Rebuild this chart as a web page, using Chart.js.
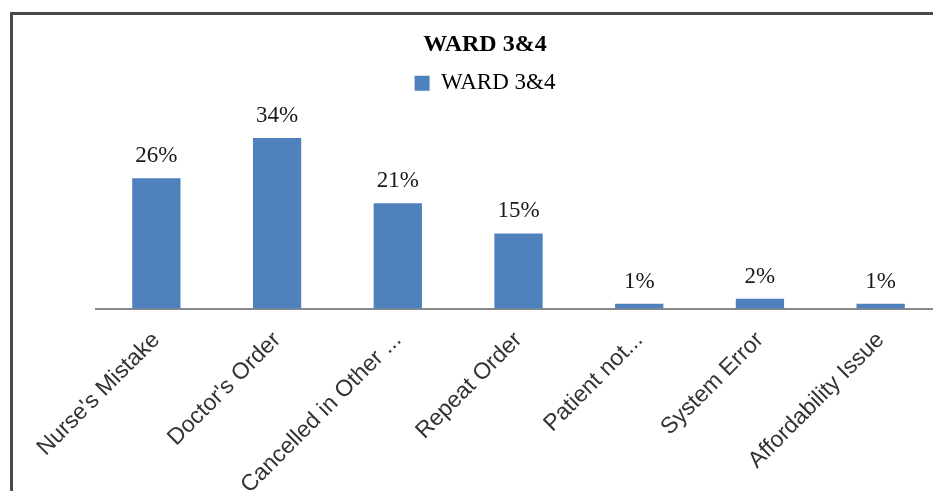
<!DOCTYPE html>
<html>
<head>
<meta charset="utf-8">
<script src="https://cdn.jsdelivr.net/npm/chart.js@4.4.1/dist/chart.umd.min.js"></script>
<style>
  html, body { margin: 0; padding: 0; background: #ffffff; overflow: hidden; width: 933px; height: 491px; }
  #frame { position: absolute; left: 10px; top: 12px; width: 960px; height: 540px; border: 3px solid #4a4a4a; box-sizing: border-box; }
  #c { position: absolute; left: 13px; top: 15px; }
</style>
</head>
<body>
<div id="frame"></div>
<canvas id="c" width="944" height="505"></canvas>
<script>
const chartTitle = "WARD 3&4";
const seriesName = "WARD 3&4";
const categories = ["Nurse's Mistake", "Doctor's Order", "Cancelled in Other ...", "Repeat Order", "Patient not...", "System Error", "Affordability Issue"];
const values = [26, 34, 21, 15, 1, 2, 1];
const valueLabels = ["26%", "34%", "21%", "15%", "1%", "2%", "1%"];

const dataLabelPlugin = {
  id: 'dataLabels',
  afterDatasetsDraw(chart) {
    const ctx = chart.ctx;
    const meta = chart.getDatasetMeta(0);
    ctx.save();
    ctx.font = '23px "Liberation Serif", "Times New Roman", serif';
    ctx.fillStyle = '#1a1a1a';
    ctx.textAlign = 'center';
    ctx.textBaseline = 'alphabetic';
    meta.data.forEach((bar, i) => {
      ctx.fillText(valueLabels[i], bar.x, bar.y - 16);
    });
    ctx.restore();
  }
};

new Chart(document.getElementById('c'), {
  type: 'bar',
  data: {
    labels: categories,
    datasets: [{
      label: seriesName,
      data: values,
      backgroundColor: '#4F81BD',
      borderWidth: 0,
      barPercentage: 0.4,
      categoryPercentage: 1.0
    }]
  },
  options: {
    responsive: false,
    devicePixelRatio: 1,
    animation: false,
    layout: { padding: { left: 16, right: 16, top: 0, bottom: 3 } },
    plugins: {
      title: {
        display: true,
        text: chartTitle,
        color: '#000000',
        font: { family: '"Liberation Serif", "Times New Roman", serif', size: 24, weight: 'bold' },
        padding: { top: 15, bottom: 3 }
      },
      legend: {
        display: true,
        labels: {
          color: '#000000',
          font: { family: '"Liberation Serif", "Times New Roman", serif', size: 23 },
          boxWidth: 15,
          boxHeight: 15
        }
      },
      tooltip: { enabled: false }
    },
    scales: {
      x: {
        grid: { display: false, drawTicks: false },
        border: { display: true, color: '#8a8a8a', width: 2 },
        ticks: {
          autoSkip: false,
          maxRotation: 45,
          minRotation: 45,
          padding: 18,
          color: '#333333',
          font: { family: '"Liberation Sans", Arial, sans-serif', size: 23 }
        }
      },
      y: {
        display: true,
        min: 0,
        max: 40.6,
        grid: { display: false, drawTicks: false },
        border: { display: false },
        ticks: { display: false },
        afterFit(scale) { scale.width = 67; }
      }
    }
  },
  plugins: [dataLabelPlugin]
});
</script>
</body>
</html>
